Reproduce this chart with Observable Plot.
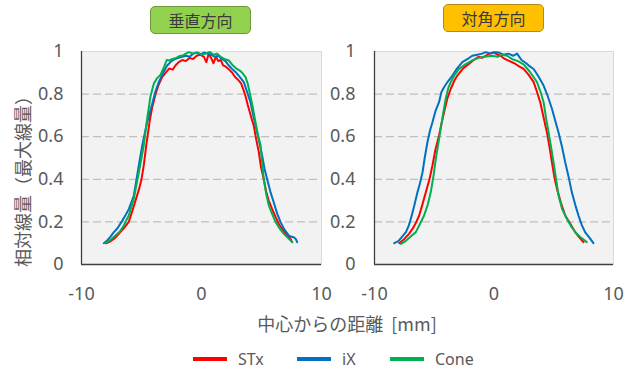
<!DOCTYPE html>
<html><head><meta charset="utf-8">
<script src="https://cdn.jsdelivr.net/npm/d3@7"></script>
<script src="https://cdn.jsdelivr.net/npm/@observablehq/plot@0.6"></script>
<style>
body{margin:0;background:#fff;font-family:"Noto Sans","Noto Sans CJK JP",sans-serif;}
#root{position:relative;width:632px;height:370px;overflow:hidden;background:#fff}
.pane{position:absolute;top:0}
.pane svg{overflow:visible}
.tbox{position:absolute;box-sizing:border-box;border-radius:5px;font-size:16px;color:#3a3a3a;display:flex;align-items:center;justify-content:center;font-family:"Noto Sans CJK JP",sans-serif}
.ytitle{position:absolute;left:22px;top:177px;transform:translate(-50%,-50%) rotate(-90deg);white-space:nowrap;font-size:18px;color:#595959;font-family:"Noto Sans CJK JP",sans-serif}
.xtitle{position:absolute;left:347px;top:323px;transform:translate(-50%,-50%);white-space:pre;font-size:18px;color:#595959;font-family:"Noto Sans CJK JP",sans-serif}
.sw{position:absolute;width:34px;height:4px;top:357px}
.lt{position:absolute;top:359px;transform:translateY(-50%);font-size:16px;color:#595959;font-family:"Noto Sans",sans-serif}
</style></head>
<body><div id="root"></div>
<script>
// ---- data ----
const seriesNames = ["STx", "iX", "Cone"];
const seriesColors = ["#ff0000", "#0070c0", "#00b050"];
const panelTitles = ["垂直方向", "対角方向"];
const xTicks = [-10, 0, 10];
const yTicks = [0, 0.2, 0.4, 0.6, 0.8, 1];
const gridVals = [0.2, 0.4, 0.6, 0.8];
const yTitle = "相対線量（最大線量）";
const xTitle = "中心からの距離  [mm]";

// 垂直方向
const vertSTx = [[-7.9,0.10],[-7.55,0.11],[-7.2,0.125],[-6.8,0.15],[-6.4,0.175],[-6.06,0.20],[-5.8,0.245],[-5.5,0.30],[-5.2,0.355],[-5.0,0.40],[-4.8,0.47],[-4.6,0.56],[-4.45,0.62],[-4.3,0.68],[-4.1,0.74],[-3.83,0.80],[-3.6,0.84],[-3.28,0.88],[-3.0,0.90],[-2.7,0.92],[-2.4,0.915],[-2.17,0.934],[-1.9,0.95],[-1.6,0.96],[-1.3,0.955],[-1.0,0.97],[-0.7,0.965],[-0.4,0.98],[-0.1,0.985],[0.2,0.975],[0.4,0.95],[0.6,0.99],[0.8,0.97],[1.0,0.945],[1.2,0.975],[1.4,0.955],[1.6,0.96],[1.8,0.935],[2.0,0.93],[2.3,0.915],[2.56,0.90],[2.8,0.88],[3.0,0.87],[3.3,0.85],[3.5,0.82],[3.67,0.79],[3.85,0.75],[4.05,0.71],[4.2,0.68],[4.36,0.65],[4.55,0.59],[4.78,0.527],[4.95,0.46],[5.19,0.40],[5.4,0.34],[5.6,0.30],[5.89,0.26],[6.2,0.22],[6.45,0.19],[6.72,0.167],[7.1,0.14],[7.42,0.12],[7.55,0.105]];
const vertIX = [[-8.14,0.10],[-7.86,0.113],[-7.6,0.13],[-7.3,0.152],[-7.0,0.17],[-6.6,0.206],[-6.3,0.235],[-6.06,0.26],[-5.85,0.29],[-5.64,0.324],[-5.36,0.418],[-5.15,0.49],[-4.94,0.558],[-4.73,0.615],[-4.53,0.668],[-4.11,0.754],[-3.85,0.81],[-3.56,0.856],[-3.2,0.90],[-2.86,0.934],[-2.5,0.955],[-2.2,0.965],[-1.9,0.97],[-1.6,0.975],[-1.3,0.98],[-1.0,0.975],[-0.7,0.99],[-0.4,0.995],[-0.1,0.985],[0.2,0.995],[0.5,0.99],[0.8,0.985],[1.1,0.975],[1.4,0.98],[1.7,0.965],[2.0,0.955],[2.28,0.934],[2.6,0.915],[2.9,0.90],[3.2,0.88],[3.53,0.856],[3.8,0.81],[4.08,0.762],[4.35,0.69],[4.64,0.62],[4.85,0.565],[5.06,0.51],[5.25,0.45],[5.47,0.40],[5.75,0.34],[6.03,0.29],[6.3,0.24],[6.58,0.20],[6.9,0.165],[7.28,0.136],[7.5,0.13],[7.69,0.128],[7.85,0.12],[7.97,0.105]];
const vertCone = [[-8.0,0.10],[-7.6,0.115],[-7.17,0.136],[-6.8,0.155],[-6.5,0.18],[-6.33,0.20],[-6.06,0.23],[-5.85,0.27],[-5.64,0.31],[-5.4,0.38],[-5.22,0.433],[-5.0,0.50],[-4.81,0.56],[-4.53,0.684],[-4.25,0.79],[-3.97,0.85],[-3.7,0.875],[-3.42,0.89],[-3.1,0.93],[-2.9,0.96],[-2.72,0.958],[-2.4,0.965],[-2.1,0.97],[-1.8,0.98],[-1.61,0.98],[-1.3,0.99],[-1.06,0.997],[-0.7,0.99],[-0.3,0.995],[0.0,0.985],[0.33,0.99],[0.7,0.998],[1.0,0.985],[1.3,0.99],[1.6,0.975],[1.9,0.965],[2.28,0.958],[2.6,0.935],[2.9,0.92],[3.2,0.91],[3.4,0.9],[3.67,0.88],[3.85,0.85],[4.08,0.79],[4.3,0.73],[4.5,0.668],[4.7,0.61],[4.92,0.56],[5.05,0.48],[5.19,0.40],[5.4,0.33],[5.61,0.277],[5.9,0.235],[6.17,0.2],[6.5,0.17],[6.86,0.144],[7.2,0.125],[7.56,0.105]];

// 対角方向
const diagSTx = [[-7.93,0.10],[-7.5,0.12],[-7.1,0.145],[-6.82,0.167],[-6.5,0.20],[-6.26,0.23],[-6.0,0.28],[-5.7,0.34],[-5.4,0.40],[-5.15,0.465],[-4.9,0.54],[-4.6,0.606],[-4.4,0.66],[-4.18,0.715],[-3.9,0.78],[-3.62,0.825],[-3.3,0.865],[-3.07,0.887],[-2.6,0.92],[-2.1,0.942],[-1.7,0.96],[-1.3,0.975],[-1.0,0.97],[-0.7,0.98],[-0.4,0.99],[0.0,0.995],[0.3,0.985],[0.54,0.98],[0.9,0.965],[1.3,0.955],[1.7,0.945],[2.1,0.93],[2.48,0.918],[2.9,0.89],[3.32,0.856],[3.6,0.81],[3.87,0.762],[4.15,0.69],[4.43,0.62],[4.65,0.55],[4.85,0.48],[5.05,0.41],[5.27,0.355],[5.6,0.29],[5.96,0.23],[6.4,0.19],[6.79,0.152],[7.1,0.13],[7.48,0.105]];
const diagIX = [[-8.35,0.10],[-8.0,0.11],[-7.7,0.13],[-7.37,0.152],[-7.15,0.18],[-6.96,0.214],[-6.7,0.27],[-6.4,0.34],[-6.2,0.38],[-5.98,0.433],[-5.8,0.50],[-5.57,0.574],[-5.35,0.63],[-5.15,0.668],[-4.9,0.72],[-4.6,0.762],[-4.4,0.81],[-4.18,0.832],[-3.85,0.86],[-3.48,0.887],[-3.1,0.92],[-2.65,0.95],[-2.2,0.965],[-1.82,0.98],[-1.4,0.985],[-1.0,0.99],[-0.7,0.997],[-0.3,0.99],[0.0,0.997],[0.4,0.995],[0.8,0.985],[1.2,0.99],[1.6,0.98],[1.93,0.99],[2.3,0.96],[2.7,0.945],[3.0,0.93],[3.32,0.918],[3.7,0.885],[4.15,0.84],[4.5,0.79],[4.85,0.731],[5.1,0.68],[5.4,0.62],[5.7,0.55],[5.96,0.48],[6.25,0.41],[6.51,0.34],[6.8,0.28],[7.07,0.23],[7.35,0.185],[7.62,0.152],[8.0,0.125],[8.32,0.10]];
const diagCone = [[-7.79,0.097],[-7.4,0.11],[-7.0,0.13],[-6.54,0.152],[-6.2,0.19],[-5.85,0.23],[-5.55,0.28],[-5.29,0.34],[-5.05,0.42],[-4.87,0.496],[-4.65,0.57],[-4.46,0.637],[-4.25,0.71],[-4.04,0.778],[-3.82,0.83],[-3.62,0.856],[-3.3,0.89],[-2.93,0.918],[-2.4,0.94],[-1.82,0.958],[-1.3,0.97],[-0.8,0.975],[-0.15,0.98],[0.3,0.975],[0.7,0.985],[1.1,0.98],[1.5,0.965],[2.0,0.955],[2.48,0.94],[3.0,0.905],[3.3,0.88],[3.6,0.856],[3.9,0.81],[4.15,0.762],[4.35,0.69],[4.57,0.62],[4.78,0.55],[4.98,0.48],[5.2,0.40],[5.4,0.324],[5.7,0.26],[6.1,0.214],[6.5,0.175],[6.93,0.144],[7.3,0.125],[7.76,0.105]];

function rows(list) {
  const out = [];
  list.forEach((pts, i) => pts.forEach(([x, y]) => out.push({x, y, s: seriesNames[i]})));
  return out;
}

function panel(data, w, ml, mr, padY) {
  return Plot.plot({
    width: w, height: 300,
    marginLeft: ml, marginRight: mr, marginTop: 51, marginBottom: 36,
    x: {domain: [-10, 10], ticks: xTicks, tickFormat: d => String(d), tickSize: 0, tickPadding: 23, label: null},
    y: {domain: [0, 1], ticks: yTicks, tickFormat: d => String(d), tickSize: 0, tickPadding: padY, label: null},
    color: {domain: seriesNames, range: seriesColors},
    style: {fontSize: "18px", fontFamily: "'Noto Sans', sans-serif", color: "#595959", background: "transparent", overflow: "visible"},
    marks: [
      Plot.frame({fill: "#f2f2f2", stroke: "#d9d9d9"}),
      Plot.ruleY(gridVals, {stroke: "#bfbfbf", strokeDasharray: "8,4", strokeWidth: 1.2}),
      Plot.ruleX([-10], {stroke: "#404040", strokeWidth: 1.3}),
      Plot.ruleY([0], {stroke: "#404040", strokeWidth: 1.3}),
      Plot.line(data, {x: "x", y: "y", z: "s", stroke: "s", strokeWidth: 2})
    ]
  });
}

const root = document.getElementById("root");
const p1 = document.createElement("div"); p1.className = "pane"; p1.style.left = "0px";
p1.appendChild(panel(rows([vertSTx, vertIX, vertCone]), 330, 81, 9, 18));
const p2 = document.createElement("div"); p2.className = "pane"; p2.style.left = "320px";
p2.appendChild(panel(rows([diagSTx, diagIX, diagCone]), 312, 54, 19, 19));
root.appendChild(p1); root.appendChild(p2);

function box(text, left, top, fill, border) {
  const d = document.createElement("div"); d.className = "tbox";
  Object.assign(d.style, {left: left + "px", top: top + "px", width: "101px", height: "28px", background: fill, border: "1px solid " + border});
  d.textContent = text; root.appendChild(d);
}
box(panelTitles[0], 150, 6, "#92d050", "#6f9a3c");
box(panelTitles[1], 443, 4, "#ffc000", "#b38a12");

const yt = document.createElement("div"); yt.className = "ytitle"; yt.textContent = yTitle; root.appendChild(yt);
const xt = document.createElement("div"); xt.className = "xtitle"; xt.textContent = xTitle; root.appendChild(xt);

const swLeft = [193, 297, 390], txLeft = [238, 342, 435];
seriesNames.forEach((n, i) => {
  const s = document.createElement("div"); s.className = "sw";
  s.style.left = swLeft[i] + "px"; s.style.background = seriesColors[i]; root.appendChild(s);
  const t = document.createElement("div"); t.className = "lt";
  t.style.left = txLeft[i] + "px"; t.textContent = n; root.appendChild(t);
});
</script>
</body></html>
